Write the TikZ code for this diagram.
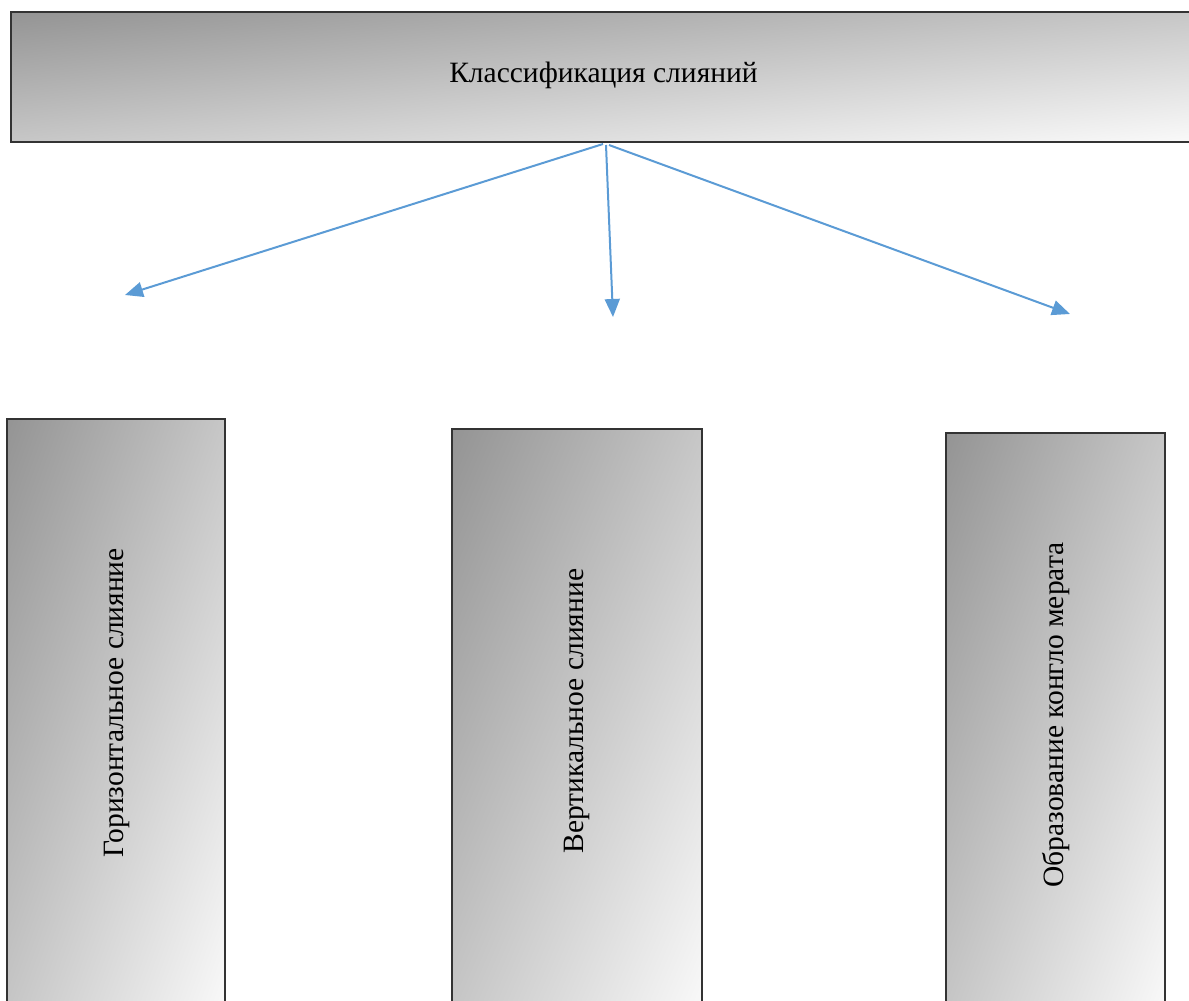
\documentclass[tikz,border=0pt]{standalone}
\usepackage{fontspec}
\setmainfont{Liberation Serif}
\usetikzlibrary{arrows.meta}
\definecolor{arrowblue}{HTML}{5B9BD5}
\definecolor{boxedge}{HTML}{333333}
% diagonal gradient: dark (0.58) at top-left corner, light (0.98) at bottom-right corner
\pgfdeclarefunctionalshading{diaggray}{\pgfpoint{0bp}{0bp}}{\pgfpoint{100bp}{100bp}}{}{
  sub 50 add 100 div 0.40 mul 0.58 add dup dup
}
\tikzset{
  gradbox/.style={draw=boxedge, line width=1.8pt, shading=diaggray},
  lbl/.style={font=\fontsize{29.5}{34}\selectfont, text=black},
  conn/.style={draw=arrowblue, line width=2pt,
    -{Triangle[length=18pt,width=15pt]}}
}
\begin{document}
\begin{tikzpicture}[x=1pt,y=-1pt]
\useasboundingbox (0,0) rectangle (1189,1001);
\clip (0,0) rectangle (1189,1001);
% top box
\path[gradbox] (11,12) rectangle (1200,142);
\node[lbl] (top) at (603.5,75) {Классификация слияний};
% lower boxes
\path[gradbox] (7,419) rectangle (225,1020);
\node[lbl, rotate=90] (b1) at (117,703) {Горизонтальное слияние};
\path[gradbox] (452,429) rectangle (702,1020);
\node[lbl, rotate=90] (b2) at (577,711) {Вертикальное слияние};
\path[gradbox] (946,433) rectangle (1165,1020);
\node[lbl, rotate=90] (b3) at (1056,715) {Образование конгло мерата};
% connectors
\coordinate (s1) at (603,144);
\coordinate (s2) at (606,145);
\coordinate (s3) at (609,145);
\coordinate (e1) at (125,295);
\coordinate (e2) at (613,317);
\coordinate (e3) at (1070,314);
\draw[conn] (s1) -- (e1);
\draw[conn] (s2) -- (e2);
\draw[conn] (s3) -- (e3);
\end{tikzpicture}
\end{document}
